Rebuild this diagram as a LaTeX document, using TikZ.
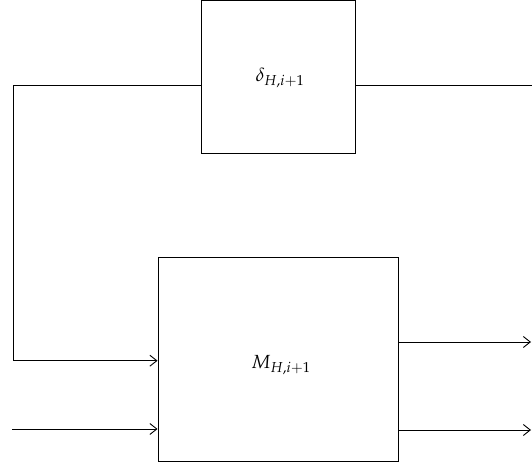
\documentclass[tikz,border=0pt]{standalone}
\usepackage{mathpazo}
\usetikzlibrary{arrows.meta}
\begin{document}
\begin{tikzpicture}[x=1pt,y=1pt,
  blockbox/.style={draw, line width=0.9pt, minimum width=#1, inner sep=0pt},
  blocklabel/.style={font=\fontsize{19}{22}\selectfont, inner sep=0pt},
  wire/.style={line width=0.9pt},
  feed/.style={wire, -{Straight Barb[length=7pt,width=11pt,line width=0.9pt]}}]
  \useasboundingbox (0,0) rectangle (532,466);
  % blocks
  \node[blockbox=154pt, minimum height=153.5pt] (delta) at (278,389.25) {};
  \node[blockbox=240pt, minimum height=204pt] (mblk) at (278,107) {};
  \node[blocklabel] (deltalbl) at ([xshift=2pt,yshift=-1pt]delta.center) {$\delta_{H,i+1}$};
  \node[blocklabel] (mlbl) at ([xshift=3pt,yshift=-6pt]mblk.center) {$M_{H,i+1}$};
  % feedback path and free ends
  \coordinate (fbcorner) at (13,380.3);
  \coordinate (fbdown) at (13,105.3);
  \coordinate (dout) at (532,380.3);
  \coordinate (xin) at (12,37);
  \coordinate (outA) at (531,124);
  \coordinate (outB) at (531,36);
  % connectors
  \draw[wire] (delta.west |- fbcorner) -- (fbcorner) -- (fbdown);
  \draw[feed] (fbdown) -- (mblk.west |- fbdown);
  \draw[feed] (xin) -- (mblk.west |- xin);
  \draw[wire] (delta.east |- dout) -- (dout);
  \draw[feed] (mblk.east |- outA) -- (outA);
  \draw[feed] (mblk.east |- outB) -- (outB);
\end{tikzpicture}
\end{document}
